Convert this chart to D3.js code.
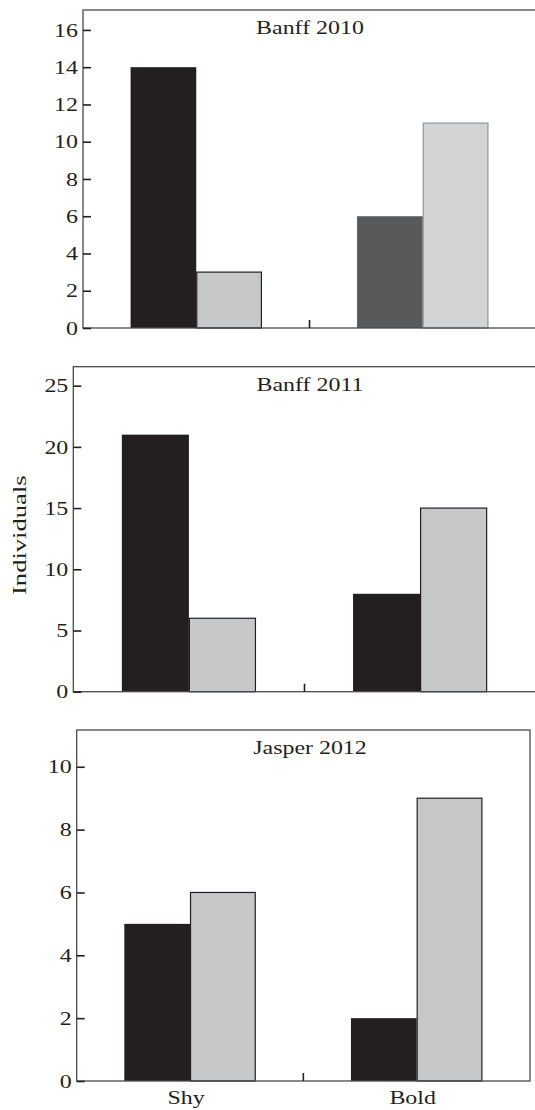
<!DOCTYPE html>
<html>
<head>
<meta charset="utf-8">
<script src="https://cdn.jsdelivr.net/npm/d3@7"></script>
<style>
  html, body { margin: 0; padding: 0; background: #fff; }
  svg { display: block; }
  text { font-family: "Liberation Serif", "Times New Roman", serif; fill: #231f20; }
</style>
</head>
<body>
<svg id="chart" width="535" height="1110"></svg>
<script>
// ---- data ----
const categories = ["Shy", "Bold"];
const seriesKeys = ["first", "second"];
const panelTitles = ["Banff 2010", "Banff 2011", "Jasper 2012"];
const shyValues = [[14, 3], [21, 6], [5, 6]];
const boldValues = [[6, 11], [8, 15], [2, 9]];
const yMaxValues = [17.07, 26.55, 11.17];
const tickValues2010 = [0, 2, 4, 6, 8, 10, 12, 14, 16];
const tickValues2011 = [0, 5, 10, 15, 20, 25];
const tickValues2012 = [0, 2, 4, 6, 8, 10];
const yAxisLabel = "Individuals";

// ---- layout / style ----
const tickArrays = [tickValues2010, tickValues2011, tickValues2012];
const frames = [
  { left: 83, top: 10, bottom: 328, right: 536 },
  { left: 73.3, top: 366.7, bottom: 691.7, right: 535.7 },
  { left: 76.7, top: 730, bottom: 1081, right: 530 }
];
const SX = 1.33;          // horizontal stretch of the serif face
const FS = 18;
const frameColor = "#4a4a4c";
const ink = "#231f20";

function fillFor(p, c, s) {
  if (p === 0 && c === 1) return s === 0 ? "#58595b" : "#d1d3d4";
  return s === 0 ? "#231f20" : "#c6c7c8";
}
function strokeFor(p, c, s) {
  if (s === 0) return "none";
  if (p === 0 && c === 1) return "#939598";
  return "#231f20";
}

const svg = d3.select("#chart");

frames.forEach((f, p) => {
  const g = svg.append("g");
  const y = d3.scaleLinear().domain([0, yMaxValues[p]]).range([f.bottom, f.top]);
  const x = d3.scaleBand().domain(categories).range([f.left, f.right])
    .paddingInner(0.42).paddingOuter(0.21);
  const xs = d3.scaleBand().domain(seriesKeys).range([0, x.bandwidth()]);

  const rows = categories.map((c, ci) => ({
    cat: c, ci,
    vals: (ci === 0 ? shyValues[p] : boldValues[p]).map((v, si) => ({ key: seriesKeys[si], si, v }))
  }));

  // bars
  const grp = g.selectAll("g.cat").data(rows).join("g")
    .attr("transform", d => `translate(${x(d.cat)},0)`);
  grp.selectAll("rect").data(d => d.vals.map(v => ({ ...v, ci: d.ci }))).join("rect")
    .attr("x", d => xs(d.key) + (d.si === 1 ? 0.5 : 0))
    .attr("width", d => xs.bandwidth() - (d.si === 1 ? 1 : 0))
    .attr("y", d => y(d.v))
    .attr("height", d => y(0) - y(d.v))
    .attr("fill", d => fillFor(p, d.ci, d.si))
    .attr("stroke", d => strokeFor(p, d.ci, d.si))
    .attr("stroke-width", 1.2);

  // frame
  g.append("rect")
    .attr("x", f.left).attr("y", f.top)
    .attr("width", f.right - f.left).attr("height", f.bottom - f.top)
    .attr("fill", "none").attr("stroke", frameColor).attr("stroke-width", 1.3);

  // y axis
  const ax = g.append("g").attr("transform", `translate(${f.left},0)`)
    .call(d3.axisLeft(y).tickValues(tickArrays[p]).tickSizeInner(-8).tickSizeOuter(0).tickPadding(5));
  ax.select(".domain").remove();
  ax.selectAll(".tick line").attr("stroke", ink).attr("stroke-width", 1.6);
  ax.selectAll(".tick text")
    .attr("x", 0).attr("dy", "0.34em")
    .attr("transform", `translate(-5,0) scale(${SX},1)`)
    .style("font-size", FS + "px")
    .attr("fill", ink);

  // middle x tick
  const midX = (x(categories[0]) + x.bandwidth() + x(categories[1])) / 2;
  g.append("line")
    .attr("x1", midX).attr("x2", midX)
    .attr("y1", f.bottom).attr("y2", f.bottom - 8)
    .attr("stroke", ink).attr("stroke-width", 1.6);

  // title
  g.append("text")
    .attr("transform", `translate(310,${f.top + 24}) scale(${SX},1)`)
    .attr("text-anchor", "middle")
    .style("font-size", FS + "px")
    .text(panelTitles[p]);

  // category labels on last panel
  if (p === frames.length - 1) {
    g.selectAll("text.cat").data(categories).join("text")
      .attr("class", "cat")
      .attr("transform", d => `translate(${x(d) + x.bandwidth() / 2 - 4},${f.bottom + 23}) scale(${SX},1)`)
      .attr("text-anchor", "middle")
      .style("font-size", FS + "px")
      .text(d => d);
  }

  // y axis label on middle panel
  if (p === 1) {
    g.append("text")
      .attr("transform", `translate(26,${(f.top + f.bottom) / 2 + 6}) rotate(-90) scale(1.4,1)`)
      .attr("text-anchor", "middle")
      .style("font-size", "19px")
      .text(yAxisLabel);
  }
});
</script>
</body>
</html>
